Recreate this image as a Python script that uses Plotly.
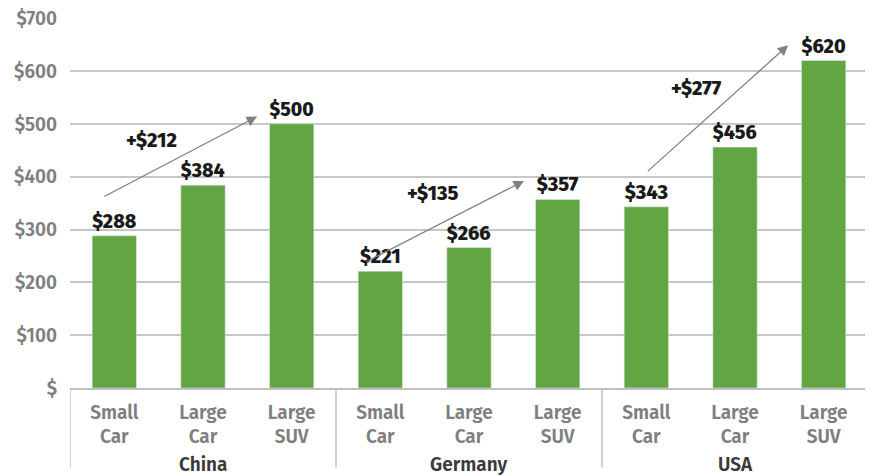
import plotly.graph_objects as go

countries = ["China", "Germany", "USA"]
vehicles = ["Small Car", "Large Car", "Large SUV"]
vehicle_labels = ["Small<br>Car", "Large<br>Car", "Large<br>SUV"]
values = {
    "China": [288, 384, 500],
    "Germany": [221, 266, 357],
    "USA": [343, 456, 620],
}
y_ticks = [0, 100, 200, 300, 400, 500, 600, 700]
y_tick_text = ["$", "$100", "$200", "$300", "$400", "$500", "$600", "$700"]
# arrows: (country, increase label, tail idx, tail y, head idx, head y, text idx, text y)
arrows = [
    ("China", "+$212", -0.13, 361, 1.61, 514, 0.42, 469),
    ("Germany", "+$135", 2.83, 238, 4.62, 392, 3.59, 369),
    ("USA", "+$277", 6.0, 408, 7.6, 649, 6.57, 567),
]

FONT = "Fira Sans, Noto Sans, sans-serif"
GRAY = "#7f7f7f"
GREEN = "#62A543"

keys, ys, texts = [], [], []
for c in countries:
    for v, val in zip(vehicles, values[c]):
        keys.append(f"{c}|{v}")
        ys.append(val)
        texts.append(f"${val}")

fig = go.Figure(go.Bar(
    x=keys, y=ys, text=texts, textposition="outside",
    textfont=dict(family=FONT, size=20, color="#1a1a1a", weight=800),
    marker=dict(color=GREEN), cliponaxis=False,
))

fig.update_layout(
    width=865, height=468,
    margin=dict(l=62, r=5, t=10, b=88, autoexpand=False),
    plot_bgcolor="white", paper_bgcolor="white",
    bargap=0.5, showlegend=False,
    font=dict(family=FONT),
)
fig.update_xaxes(
    tickvals=keys, ticktext=vehicle_labels * len(countries),
    tickfont=dict(family=FONT, size=19, color=GRAY, weight=600),
    showline=True, linecolor="#bfbfbf", linewidth=1.5,
    range=[-0.5, len(keys) - 0.5], showgrid=False,
    ticklabelstandoff=6, automargin=False,
)
fig.update_yaxes(
    range=[0, 700.4], tickvals=y_ticks, ticktext=y_tick_text,
    tickfont=dict(family=FONT, size=19, color=GRAY, weight=600),
    showgrid=True, gridcolor="#c6c6c6", gridwidth=1.5,
    zeroline=False, ticklabelstandoff=12, ticklabeloverflow="allow",
    automargin=False,
)

shapes = []
for i in range(len(countries) + 1):
    xb = i * len(vehicles) - 0.5
    shapes.append(dict(type="line", xref="x", yref="paper", x0=xb, x1=xb,
                       y0=0, y1=-0.215, line=dict(color="#bfbfbf", width=1.5)))
fig.update_layout(shapes=shapes)

for i, c in enumerate(countries):
    fig.add_annotation(x=i * len(vehicles) + 1, y=0, xref="x", yref="paper",
                       yshift=-90, text=c, showarrow=False,
                       font=dict(family=FONT, size=19, color="#3a3a3a", weight=600))

for c, lab, tx, ty, hx, hy, lx, ly in arrows:
    fig.add_annotation(x=hx, y=hy, ax=tx, ay=ty, xref="x", yref="y",
                       axref="x", ayref="y", text="", showarrow=True,
                       arrowhead=2, arrowsize=1.6, arrowwidth=1.3,
                       arrowcolor="#808080")
    fig.add_annotation(x=lx, y=ly, xref="x", yref="y", text=lab,
                       showarrow=False,
                       font=dict(family=FONT, size=20, color="#1a1a1a", weight=800))

fig.write_html("out.html")
